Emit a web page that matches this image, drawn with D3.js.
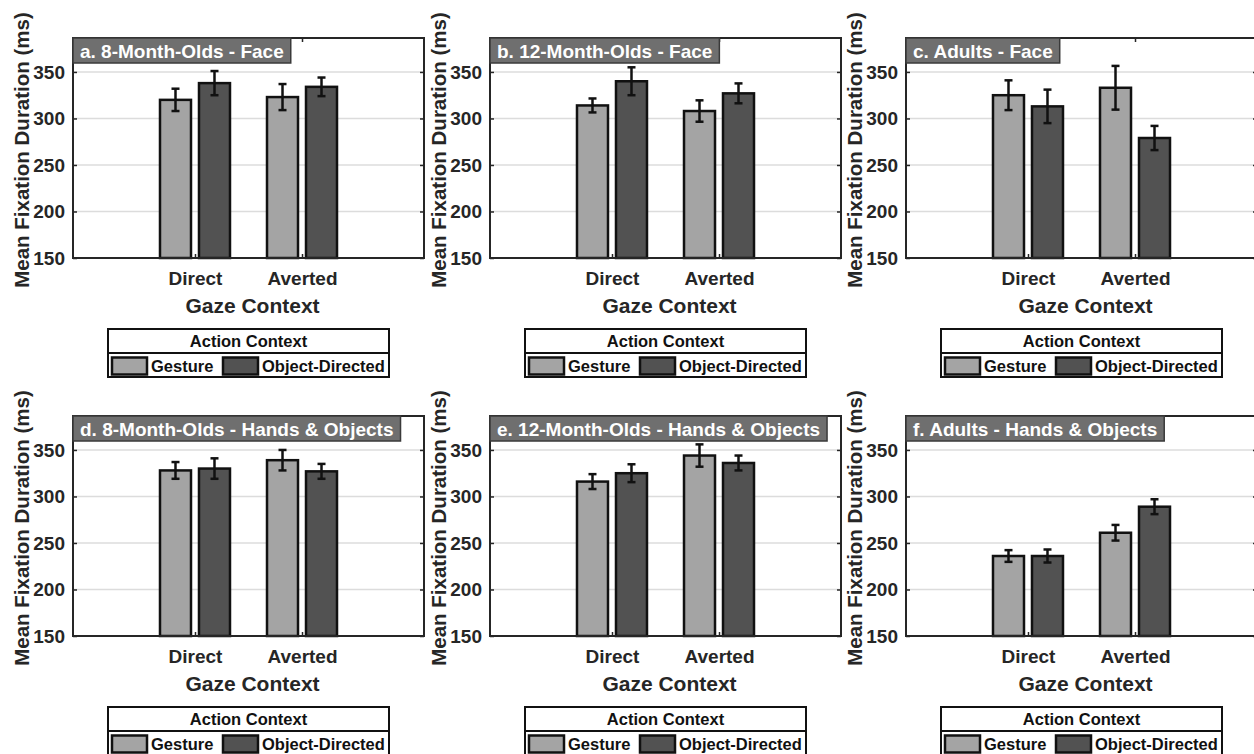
<!DOCTYPE html>
<html>
<head>
<meta charset="utf-8">
<script src="https://cdn.jsdelivr.net/npm/d3@7"></script>
<style>
html,body{margin:0;padding:0;background:#fff;}
svg{display:block;font-family:"Liberation Sans",Arial,sans-serif;}
</style>
</head>
<body>
<svg id="chart" width="1254" height="754"></svg>
<script>
// ---------- data ----------
const panelTitles = [
  "a. 8-Month-Olds - Face",
  "b. 12-Month-Olds - Face",
  "c. Adults - Face",
  "d. 8-Month-Olds - Hands & Objects",
  "e. 12-Month-Olds - Hands & Objects",
  "f. Adults - Hands & Objects"
];
const categories = ["Direct", "Averted"];
const series = ["Gesture", "Object-Directed"];
const gestureMeans = [[320, 323], [314, 308], [325, 333], [328, 339], [316, 344], [236, 261]];
const objectMeans  = [[338, 334], [340, 327], [313, 279], [330, 327], [325, 336], [236, 289]];
const gestureErr   = [[12, 14], [7.5, 11.5], [16, 23.5], [9, 11], [8, 12], [6.3, 8.4]];
const objectErr    = [[13, 10], [15, 10.7], [18, 13], [11, 8], [9.6, 8], [7, 8]];
const yTicks = [150, 200, 250, 300, 350];
const yDomain = [150, 386.5];
const xLabel = "Gaze Context";
const yLabel = "Mean Fixation Duration (ms)";
const legendTitle = "Action Context";
const seriesColors = ["#a4a4a4", "#525252"];

// ---------- layout ----------
const svg = d3.select("#chart");
const colOffsets = [0, 417, 833];
const rowOffsets = [0, 378];
const axL = 73, axR = 424, axT = 38, axB = 258;
const ink = "#262626";

const y = d3.scaleLinear().domain(yDomain).range([axB, axT]);
const x0 = d3.scalePoint().domain(categories).range([axL, axR]).padding(1.14);
const x1 = d3.scaleBand().domain(series).range([-35, 35]).paddingInner(0.205);
const color = d3.scaleOrdinal().domain(series).range(seriesColors);

panelTitles.forEach((title, i) => {
  const dx = colOffsets[i % 3], dy = rowOffsets[Math.floor(i / 3)];
  const g = svg.append("g").attr("transform", `translate(${dx},${dy})`);

  // grid
  g.append("g").selectAll("line").data(yTicks.slice(1)).join("line")
    .attr("x1", axL).attr("x2", axR)
    .attr("y1", d => y(d)).attr("y2", d => y(d))
    .attr("stroke", "#dcdcdc").attr("stroke-width", 1.5);

  // bars
  const rows = categories.map((c, ci) => ({
    cat: c,
    vals: [
      {s: series[0], v: gestureMeans[i][ci], e: gestureErr[i][ci]},
      {s: series[1], v: objectMeans[i][ci], e: objectErr[i][ci]}
    ]
  }));
  const grp = g.append("g").selectAll("g").data(rows).join("g")
    .attr("transform", d => `translate(${x0(d.cat)},0)`);
  grp.selectAll("rect").data(d => d.vals).join("rect")
    .attr("x", d => x1(d.s))
    .attr("width", x1.bandwidth())
    .attr("y", d => y(d.v))
    .attr("height", d => y(yDomain[0]) - y(d.v))
    .attr("fill", d => color(d.s))
    .attr("stroke", "#111").attr("stroke-width", 2.5);

  // error bars
  const eb = grp.selectAll("g.eb").data(d => d.vals).join("g").attr("class", "eb")
    .attr("transform", d => `translate(${x1(d.s) + x1.bandwidth() / 2},0)`)
    .attr("stroke", "#111").attr("stroke-width", 2.5);
  eb.append("line").attr("x1", 0).attr("x2", 0)
    .attr("y1", d => y(d.v + d.e)).attr("y2", d => y(d.v - d.e));
  eb.append("line").attr("x1", -4).attr("x2", 4)
    .attr("y1", d => y(d.v + d.e)).attr("y2", d => y(d.v + d.e));
  eb.append("line").attr("x1", -4).attr("x2", 4)
    .attr("y1", d => y(d.v - d.e)).attr("y2", d => y(d.v - d.e));

  // axis box
  g.append("rect").attr("x", axL).attr("y", axT)
    .attr("width", axR - axL).attr("height", axB - axT)
    .attr("fill", "none").attr("stroke", ink).attr("stroke-width", 2);

  // y axis (left, inward ticks)
  const yAxisL = g.append("g").attr("transform", `translate(${axL},0)`)
    .call(d3.axisLeft(y).tickValues(yTicks).tickSize(-4).tickPadding(8));
  yAxisL.select(".domain").remove();
  yAxisL.selectAll("line").attr("stroke", ink).attr("stroke-width", 1.5);
  yAxisL.selectAll("text").attr("fill", ink)
    .style("font-size", "19px").style("font-weight", "bold");
  // right ticks
  const yAxisR = g.append("g").attr("transform", `translate(${axR},0)`)
    .call(d3.axisRight(y).tickValues(yTicks).tickSize(-4).tickFormat(""));
  yAxisR.select(".domain").remove();
  yAxisR.selectAll("line").attr("stroke", ink).attr("stroke-width", 1.5);

  // x axis
  const xAxis = g.append("g").attr("transform", `translate(0,${axB})`)
    .call(d3.axisBottom(x0).tickSize(-4).tickPadding(14));
  xAxis.select(".domain").remove();
  xAxis.selectAll("line").attr("stroke", ink).attr("stroke-width", 1.5);
  xAxis.selectAll("text").attr("fill", ink)
    .style("font-size", "19px").style("font-weight", "bold");
  const xAxisT = g.append("g").attr("transform", `translate(0,${axT})`)
    .call(d3.axisTop(x0).tickSize(-4).tickFormat(""));
  xAxisT.select(".domain").remove();
  xAxisT.selectAll("line").attr("stroke", ink).attr("stroke-width", 1.5);

  // axis labels
  g.append("text").attr("x", (axL + axR) / 2 + 4).attr("y", 313)
    .attr("text-anchor", "middle").attr("fill", ink)
    .style("font-size", "21px").style("font-weight", "bold").text(xLabel);
  g.append("text").attr("transform", `translate(29,150) rotate(-90)`)
    .attr("text-anchor", "middle").attr("fill", ink)
    .style("font-size", "20.5px").style("font-weight", "bold").text(yLabel);

  // title box
  const tb = g.append("g");
  const tt = tb.append("text").attr("x", axL + 7).attr("y", 58)
    .attr("fill", "#fff").style("font-size", "19px").style("font-weight", "bold").text(title);
  const tw = tt.node().getComputedTextLength();
  tb.insert("rect", "text").attr("x", axL).attr("y", axT)
    .attr("width", tw + 14).attr("height", 25)
    .attr("fill", "#6f6f6f").attr("stroke", "#3a3a3a").attr("stroke-width", 1.5);

  // legend
  const lg = g.append("g");
  const lx0 = 108, lx1 = 389, ly0 = 329, ly1 = 353, ly2 = 377;
  lg.append("rect").attr("x", lx0).attr("y", ly0).attr("width", lx1 - lx0).attr("height", ly2 - ly0)
    .attr("fill", "#fff").attr("stroke", "#111").attr("stroke-width", 2);
  lg.append("line").attr("x1", lx0).attr("x2", lx1).attr("y1", ly1).attr("y2", ly1)
    .attr("stroke", "#111").attr("stroke-width", 2);
  lg.append("text").attr("x", (lx0 + lx1) / 2).attr("y", 347).attr("text-anchor", "middle")
    .attr("fill", "#111").style("font-size", "16.5px").style("font-weight", "bold").text(legendTitle);
  const swX = [112, 223], txX = [151, 262];
  series.forEach((s, si) => {
    lg.append("rect").attr("x", swX[si]).attr("y", 357.5).attr("width", 35).attr("height", 17)
      .attr("fill", color(s)).attr("stroke", "#111").attr("stroke-width", 2.5);
    lg.append("text").attr("x", txX[si]).attr("y", 372).attr("fill", "#111")
      .style("font-size", "16.5px").style("font-weight", "bold").text(s);
  });
});
</script>
</body>
</html>
